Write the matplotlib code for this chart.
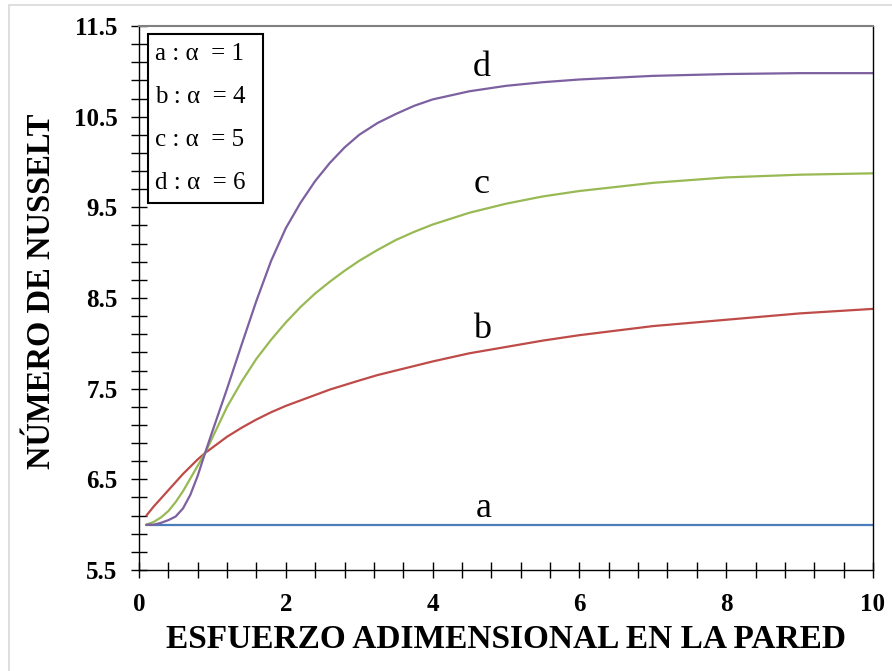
import matplotlib
matplotlib.use("Agg")
import matplotlib.pyplot as plt
from matplotlib.ticker import MultipleLocator, FixedLocator
from matplotlib.patches import Rectangle

x = [0.1, 0.2, 0.3, 0.4, 0.5, 0.6, 0.7, 0.8, 0.9, 1.0, 1.2, 1.4, 1.6, 1.8,
     2.0, 2.2, 2.4, 2.6, 2.8, 3.0, 3.25, 3.5, 3.75, 4.0, 4.5, 5.0, 5.5, 6.0,
     7.0, 8.0, 9.0, 10.0]
nu_a = [6.0] * len(x)
nu_b = [6.10, 6.20, 6.29, 6.38, 6.47, 6.56, 6.64, 6.72, 6.79, 6.85, 6.97, 7.07,
        7.16, 7.24, 7.31, 7.37, 7.43, 7.49, 7.54, 7.59, 7.65, 7.70, 7.75, 7.80,
        7.89, 7.96, 8.03, 8.09, 8.19, 8.26, 8.33, 8.38]
nu_c = [6.00, 6.03, 6.08, 6.15, 6.25, 6.37, 6.51, 6.65, 6.79, 6.96, 7.30, 7.58,
        7.83, 8.04, 8.23, 8.40, 8.55, 8.68, 8.80, 8.91, 9.03, 9.14, 9.23, 9.31,
        9.44, 9.54, 9.62, 9.68, 9.77, 9.83, 9.86, 9.875]
nu_d = [6.00, 6.00, 6.02, 6.05, 6.09, 6.18, 6.33, 6.54, 6.79, 7.03, 7.50, 7.99,
        8.47, 8.91, 9.27, 9.55, 9.79, 9.99, 10.16, 10.30, 10.43, 10.53, 10.62,
        10.69, 10.78, 10.84, 10.88, 10.91, 10.95, 10.97, 10.98, 10.98]

series_names = ["a", "b", "c", "d"]
alphas = [1, 4, 5, 6]
label_pos = [(4.7, 6.18), (4.67, 8.15), (4.67, 9.75), (4.67, 11.04)]
colors = ["#4A7EBB", "#BE4B48", "#98B954", "#7D60A0"]

xlabel = "ESFUERZO ADIMENSIONAL EN LA PARED"
ylabel = "NÚMERO DE NUSSELT"
yticks = [5.5, 6.5, 7.5, 8.5, 9.5, 10.5, 11.5]
xticks = [0, 2, 4, 6, 8, 10]

plt.rcParams['font.family'] = ['Liberation Serif', 'DejaVu Serif']

fig = plt.figure(figsize=(8.92, 6.71), dpi=100)
ax = fig.add_axes([139/892, 1-570/671, (873-139)/892, (570-26)/671])

for ys, col in zip([nu_a, nu_b, nu_c, nu_d], colors):
    ax.plot(x, ys, color=col, lw=1.6, solid_capstyle='round',
            solid_joinstyle='round')

for name, (lx, ly) in zip(series_names, label_pos):
    ax.text(lx, ly, name, fontsize=26, ha='center', va='center')

ax.set_xlim(0, 10)
ax.set_ylim(5.5, 11.5)
ax.xaxis.set_major_locator(FixedLocator(xticks))
ax.xaxis.set_minor_locator(MultipleLocator(0.4))
ax.yaxis.set_major_locator(FixedLocator(yticks))
ax.yaxis.set_minor_locator(MultipleLocator(0.2, offset=0.1))
ax.set_xticklabels([str(t) for t in xticks], fontsize=18, fontweight='bold')
ax.set_yticklabels([str(t) for t in yticks], fontsize=18, fontweight='bold')
ax.tick_params(which='both', direction='inout', length=11, width=1, color='black')
ax.tick_params(axis='x', pad=11)
ax.tick_params(axis='y', pad=10)

for s in ['left', 'bottom', 'right']:
    ax.spines[s].set_color('black')
    ax.spines[s].set_linewidth(1)
ax.spines['top'].set_color('#808080')
ax.spines['top'].set_linewidth(1.5)

ax.set_xlabel(xlabel, fontsize=24, fontweight='bold', labelpad=6)
ax.set_ylabel(ylabel, fontsize=23.5, fontweight='bold')
ax.yaxis.set_label_coords(-0.112, 0.512)

# legend-like box
box = Rectangle((148/892, 1-203/671), (263-148)/892, (203-34)/671,
                transform=fig.transFigure, fill=False, edgecolor='black', lw=1.5)
fig.patches.append(box)
for i, (name, al) in enumerate(zip(series_names, alphas)):
    fig.text(155/892, 1-(54+43*i)/671, f"{name} : α  = {al}", fontsize=18,
             ha='left', va='center')

# faint outer frame
frame = Rectangle((9/892, -0.05), 1.2, 1 - 5/671 + 0.05,
                  transform=fig.transFigure, fill=False, edgecolor='#d9d9d9',
                  lw=1.2)
fig.patches.append(frame)

fig.savefig("out.png", dpi=100)
